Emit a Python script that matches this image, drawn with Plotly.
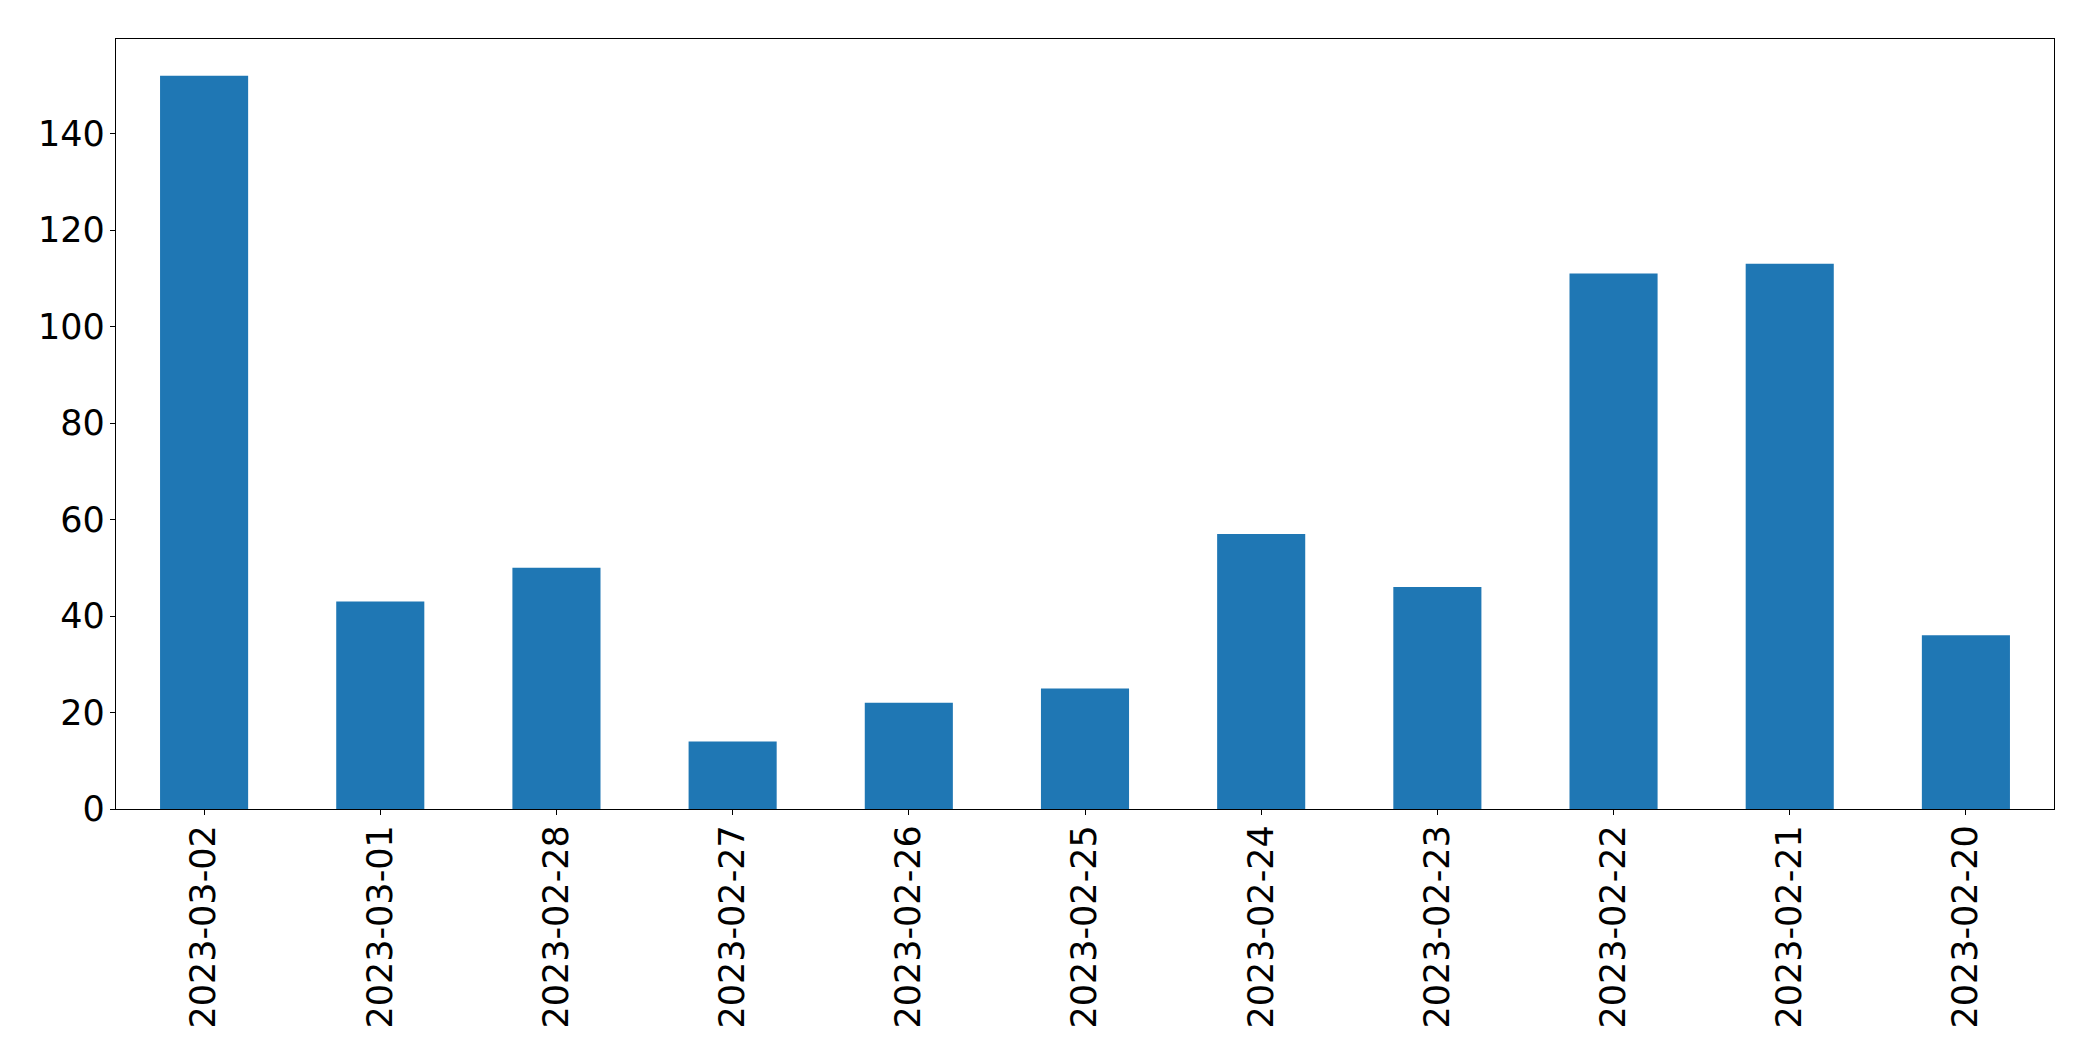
import plotly.graph_objects as go

dates = ["2023-03-02", "2023-03-01", "2023-02-28", "2023-02-27", "2023-02-26",
         "2023-02-25", "2023-02-24", "2023-02-23", "2023-02-22", "2023-02-21", "2023-02-20"]
counts = [152, 43, 50, 14, 22, 25, 57, 46, 111, 113, 36]
y_ticks = [0, 20, 40, 60, 80, 100, 120, 140]

fig = go.Figure(go.Bar(x=dates, y=counts, marker=dict(color="#1f77b4", line=dict(width=0))))

fig.update_layout(
    width=2093, height=1061,
    margin=dict(l=116, r=39, t=39, b=252, pad=0),
    paper_bgcolor="white", plot_bgcolor="white",
    bargap=0.5,
    showlegend=False,
    font=dict(family="DejaVu Sans", size=35, color="black"),
)
fig.update_xaxes(
    type="category", range=[-0.5, 10.5],
    showline=True, linecolor="black", linewidth=1.4, mirror=True,
    ticks="outside", ticklen=5, tickwidth=1.4, tickcolor="black",
    tickangle=-90, showgrid=False, zeroline=False,
    ticklabelstandoff=-4,
)
fig.update_yaxes(
    range=[0, 159.6], tickvals=y_ticks,
    showline=True, linecolor="black", linewidth=1.4, mirror=True,
    ticks="outside", ticklen=5, tickwidth=1.4, tickcolor="black",
    showgrid=False, zeroline=False,
    ticklabelstandoff=-2,
)
fig.write_html("out.html")
